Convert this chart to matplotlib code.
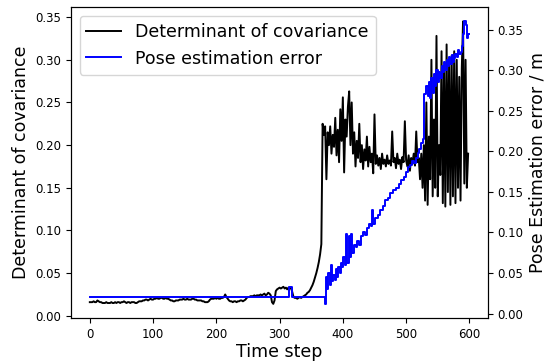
import numpy as np
import matplotlib
matplotlib.use("Agg")
from matplotlib import pyplot as plt

# determinant of covariance, every 2nd time step (values x 1000)
det_steps = np.arange(0, 600, 2)
det_vals = [
    16, 16, 16, 17, 16, 16, 18, 17, 16, 16, 15, 15, 15, 16, 15, 15, 15, 16, 15, 15,
    16, 15, 16, 16, 15, 16, 16, 17, 16, 15, 16, 16, 15, 16, 16, 16, 15, 15, 16, 17,
    17, 17, 18, 18, 19, 19, 18, 19, 20, 19,
    19, 20, 20, 21, 20, 20, 21, 21, 20, 20, 21, 20, 20, 19, 18, 18, 17, 17, 18, 18,
    18, 19, 19, 19, 20, 19, 19, 20, 19, 19, 19, 20, 20, 19, 19, 18, 18, 18, 18, 17,
    17, 16, 16, 16, 17, 19, 20, 20, 20, 21,
    20, 21, 20, 20, 21, 21, 22, 25, 22, 20, 18, 17, 17, 16, 17, 17, 16, 17, 17, 18,
    18, 17, 18, 19, 21, 22, 22, 23, 23, 23, 24, 23, 24, 24, 24, 25, 24, 25, 26, 24,
    25, 27, 26, 24, 16, 14, 18, 29, 31, 32,
    33, 32, 33, 34, 32, 33, 31, 33, 32, 33, 28, 22, 21, 21, 20, 21, 22, 21, 22, 23,
    24, 25, 27, 28, 30, 33, 36, 40, 45, 50, 56, 63, 72, 84, 225, 212, 222, 160, 215, 200,
    222, 190, 212, 198, 232, 188, 218, 180, 242, 205,
    256, 168, 230, 210, 245, 263, 200, 250, 190, 215, 175, 205, 185, 225, 180, 200, 172, 195, 182, 210,
    175, 198, 180, 190, 167, 236, 178, 188, 176, 185, 172, 190, 178, 183, 175, 188, 178, 182, 176, 216,
    180, 185, 173, 190, 178, 183, 172, 186, 180, 228,
    182, 175, 188, 170, 185, 178, 190, 176, 216, 180, 185, 160, 190, 150, 200, 135, 250, 130, 210, 160,
    300, 140, 230, 150, 328, 140, 200, 165, 310, 132, 290, 128, 318, 145, 300, 130, 305, 140, 310, 132,
    300, 150, 280, 135, 290, 345, 155, 300, 150, 190,
]

# pose estimation error (m x 1000), value holds from each step until the next
err_steps = [0, 315, 319, 371, 373, 375, 377, 379, 381, 383, 385, 387, 389, 391, 393, 395, 397,
             399, 401, 403, 405, 407, 409, 411, 413, 415, 417, 420, 423, 426, 429, 432, 435, 438,
             441, 444, 446, 448, 451, 455, 459, 463, 467, 471, 475, 479, 484, 488, 492, 496, 500,
             503, 506, 509, 512, 515, 518, 521, 524, 527, 529, 532, 534, 536, 538, 540, 542, 544,
             546, 548, 550, 552, 554, 556, 558, 560, 562, 564, 566, 568, 570, 572, 574, 576, 578,
             580, 582, 584, 586, 588, 590, 592, 594, 596, 598, 599]
err_vals = [21, 33, 21, 12, 45, 30, 50, 35, 60, 40, 48, 42, 55, 45, 58, 50, 62,
            57, 70, 60, 98, 62, 95, 70, 98, 75, 85, 82, 90, 85, 95, 100, 97, 106,
            110, 108, 128, 110, 118, 122, 128, 132, 140, 143, 148, 152, 155, 160, 165, 168, 175,
            180, 183, 188, 186, 192, 198, 203, 210, 215, 270, 280, 268, 285, 265, 290, 272, 295,
            280, 300, 285, 298, 290, 305, 298, 310, 300, 312, 305, 316, 308, 318, 310, 315, 320,
            316, 325, 320, 322, 330, 345, 360, 356, 340, 345, 345]

fig = plt.figure(figsize=(5.58, 3.63), dpi=100)
fig.subplots_adjust(left=0.127, right=0.874, bottom=0.124, top=0.98)
ax = fig.add_subplot(111)
ax2 = ax.twinx()

l1, = ax.plot(det_steps, np.array(det_vals) / 1000, color="k", lw=1.4,
              label="Determinant of covariance")
l2, = ax2.plot(err_steps, np.array(err_vals) / 1000, color="b", lw=1.4,
               drawstyle="steps-post", label="Pose estimation error")

ax.set_xlabel("Time step", fontsize=12.5, labelpad=2)
ax.set_ylabel("Determinant of covariance", fontsize=12.5)
ax2.set_ylabel("Pose Estimation error / m", fontsize=12.5)
ax.set_yticks(np.arange(0, 0.36, 0.05))
ax2.set_yticks(np.arange(0, 0.36, 0.05))
ax.tick_params(labelsize=8.5)
ax2.tick_params(labelsize=8.5)

ax.legend(handles=[l1, l2], loc="upper left", fontsize=12.5)

fig.savefig("out.png")
